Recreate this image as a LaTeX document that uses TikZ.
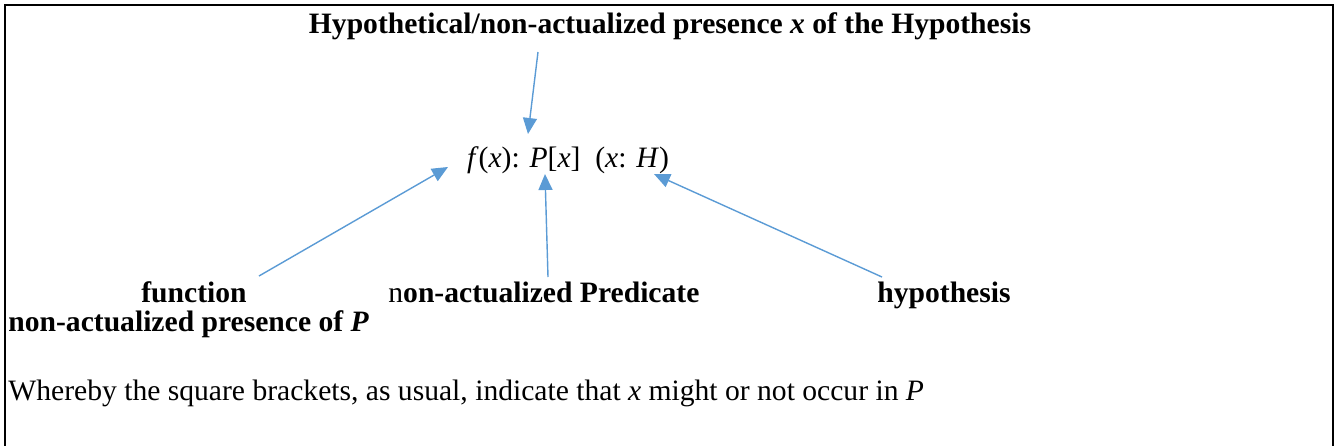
\documentclass[tikz,border=0pt]{standalone}
\usepackage{fontspec}
\setmainfont{Liberation Serif}
\usepackage{tikz}
\usetikzlibrary{arrows.meta, calc, positioning}
\definecolor{pblue}{HTML}{5B9BD5}
\tikzset{
  ptr/.style     = {draw=pblue, line width=0.7pt,
                    -{Triangle[length=8pt, width=7pt]}},
  boldlab/.style = {font=\fontsize{14.8}{17}\selectfont\bfseries, inner sep=0pt, anchor=base},
  plainlab/.style = {font=\fontsize{14.8}{17}\selectfont, inner sep=0pt, anchor=base},
  frameline/.style = {draw=black, line cap=rect},
}

\begin{document}
\begin{tikzpicture}[x=0.5pt, y=-0.5pt]
  \useasboundingbox (0,0) rectangle (1334,445);
  \draw[frameline, line width=1.4pt] (5,445) -- (5,5) -- (1333,5);
  \draw[frameline, line width=0.6pt] (1333,5) -- (1333,445);
  % texts
  \node[boldlab] (hyp) at (670,33) {Hypothetical/non-actualized presence \textit{x} of the Hypothesis};
  \node[plainlab] (formula) at (568,167) {\textit{f}(\textit{x}): \textit{P}[\textit{x}]\ \ (\textit{x}: \textit{H})};
  \node[boldlab] (func) at (194,302) {function};
  \node[boldlab, anchor=base west] (pred) at (388,302) {\mdseries n\bfseries on-actualized Predicate};
  \node[boldlab, anchor=base west] (hypo) at (877,302) {hypothesis};
  \node[boldlab, anchor=base west] (pres) at (8,331) {non-actualized presence of \textit{P}};
  \node[plainlab, anchor=base west] (note) at (8,400) {Whereby the square brackets, as usual, indicate that \textit{x} might or not occur in \textit{P}};
  % arrow ends
  \coordinate (tTop) at (528,134);
  \coordinate (tF) at (448,167);
  \coordinate (tP) at (545,174);
  \coordinate (tH) at (654,174);
  \coordinate (sTop) at (538,52);
  \coordinate (sFunc) at (259,276);
  \coordinate (sPred) at (548,277);
  \coordinate (sHypo) at (882,277);
  \draw[ptr] (sTop) -- (tTop);
  \draw[ptr] (sFunc) -- (tF);
  \draw[ptr] (sPred) -- (tP);
  \draw[ptr] (sHypo) -- (tH);
\end{tikzpicture}
\end{document}
